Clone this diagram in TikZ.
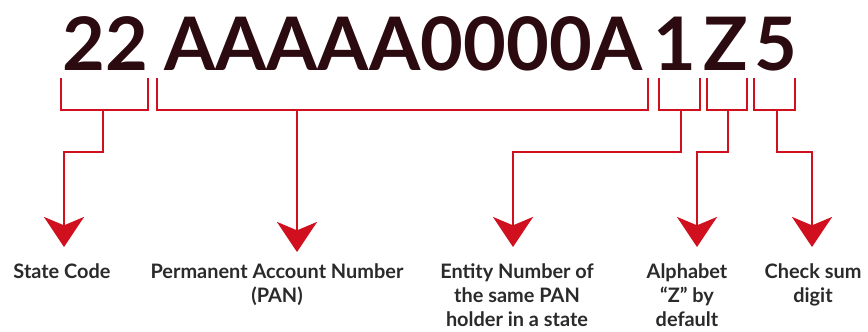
\documentclass[tikz,border=0pt]{standalone}
\usepackage{fontspec}
\setmainfont{Lato}
\usetikzlibrary{arrows.meta,positioning}
\definecolor{panred}{HTML}{D0101F}
\definecolor{pantext}{HTML}{2B0A10}
\definecolor{lbltext}{HTML}{2A2A2A}

\begin{document}
\begin{tikzpicture}[
    x=0.03cm, y=-0.03cm,
    big/.style={font=\fontsize{63}{63}\selectfont\bfseries, text=pantext, inner sep=0, anchor=base},
    brace/.style={draw=panred, line width=2.5pt},
    arrow/.style={brace, -{Stealth[length=0.9cm, width=1.2cm, inset=0.25cm]}},
    lbl/.style={font=\fontsize{17}{20.8}\selectfont\bfseries, text=lbltext, align=center, inner sep=0, anchor=north}
]
\fill[white] (0,0) rectangle (868,331);
\useasboundingbox (0,0) rectangle (868,331);

% PAN number
\node[big] (state) at (105.5,70) {22};
\node[big] (pan) at (403.5,70) {AAAAA0000A};
\node[big] (entity) at (675,70) {1};
\node[big] (alpha) at (725.5,70) {Z};
\node[big] (check) at (775.5,70) {5};

% Brackets
\draw[brace] (61,78) |- (148,110) -- (148,78);
\draw[brace] (157,78) |- (648,110) -- (648,78);
\draw[brace] (659,78) |- (700,110) -- (700,78);
\draw[brace] (707,78) |- (747,110) -- (747,78);
\draw[brace] (754,78) |- (795,110) -- (795,78);

% Arrow tips
\coordinate (t1) at (64,247);
\coordinate (t2) at (297,252);
\coordinate (t3) at (513,247);
\coordinate (t4) at (697,247);
\coordinate (t5) at (812,247);

% Arrows
\draw[arrow] (103,110) -- (103,152) -| (t1);
\draw[arrow] (297,110) -- (t2);
\draw[arrow] (681,110) -- (681,152) -| (t3);
\draw[arrow] (728,110) -- (728,152) -| (t4);
\draw[arrow] (777,110) -- (777,152) -| (t5);

% Labels
\node[lbl] (statelbl) at (62,263) {State Code};
\node[lbl] (panlbl) at (277,263) {Permanent Account Number\\(PAN)};
\node[lbl] (entitylbl) at (517,263) {Entity Number of\\the same PAN\\holder in a state};
\node[lbl] (alphalbl) at (687,263) {Alphabet\\“Z” by\\default};
\node[lbl] (checklbl) at (813,263) {Check sum\\digit};

\end{tikzpicture}
\end{document}
